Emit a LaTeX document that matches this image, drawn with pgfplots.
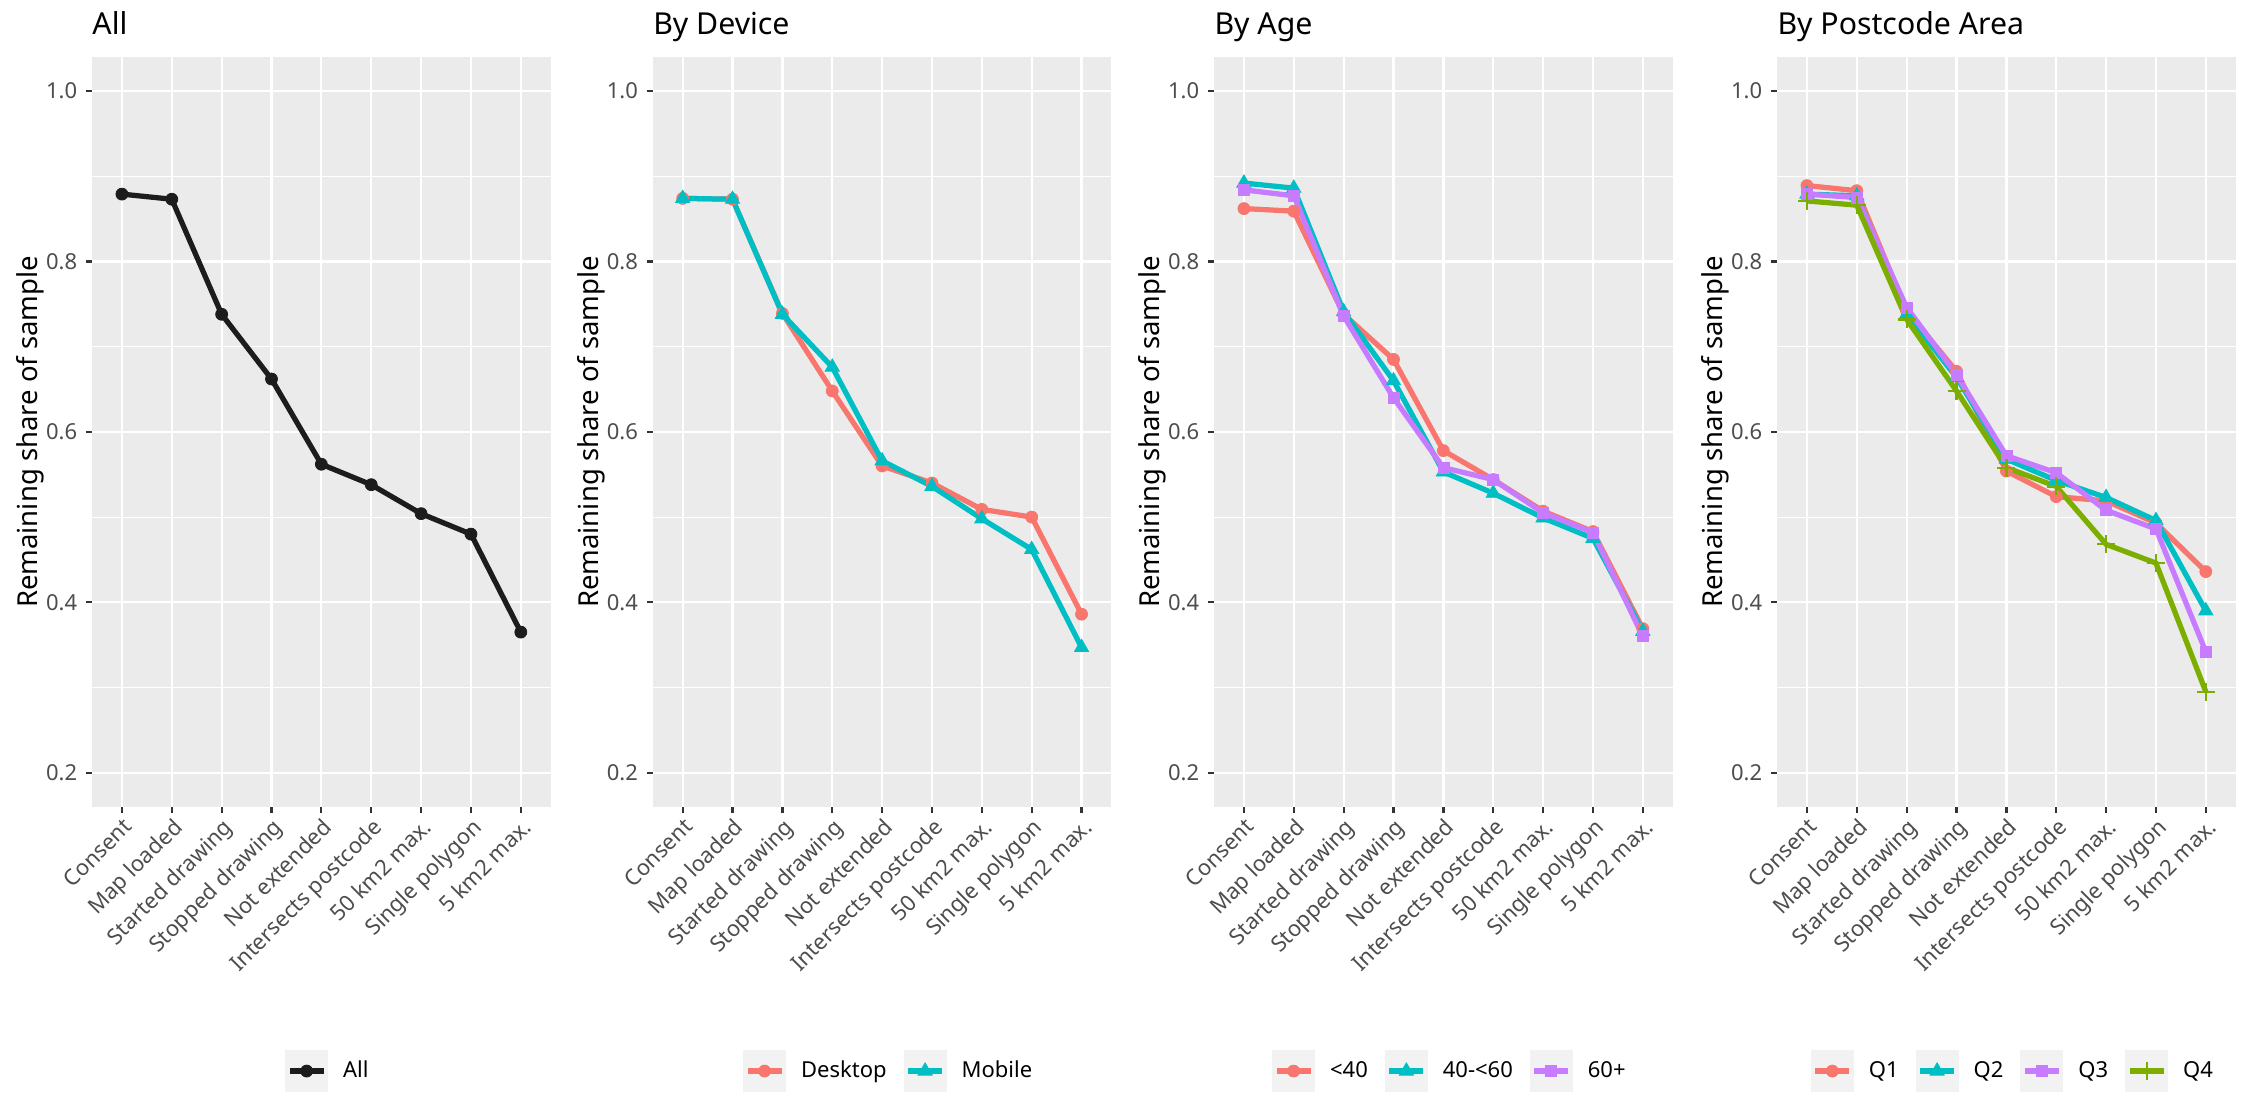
\documentclass[border=0pt]{standalone}
\usepackage{fontspec}
\setmainfont{Noto Sans}
\usepackage{pgfplots}
\pgfplotsset{compat=1.18}
\definecolor{cR}{HTML}{F8766D}
\definecolor{cC}{HTML}{00BFC4}
\definecolor{cP}{HTML}{C77CFF}
\definecolor{cG}{HTML}{7CAE00}
\definecolor{cK}{HTML}{1C1C1C}
\definecolor{panelbg}{HTML}{EBEBEB}
\definecolor{keybg}{HTML}{F2F2F2}
\definecolor{ticktext}{HTML}{4D4D4D}
\definecolor{tickcol}{HTML}{333333}
\pgfplotsset{
  funnel/.style={
    scale only axis, width=183.5pt, height=299.96pt,
    anchor=south west,
    xmin=-0.6, xmax=8.6, ymin=0.16, ymax=1.04,
    xtick={0,...,8},
    xticklabels={Consent,Map loaded,Started drawing,Stopped drawing,Not extended,Intersects postcode,50 km2 max.,Single polygon,5 km2 max.},
    ytick={0.2,0.4,0.6,0.8,1.0},
    yticklabels={0.2,0.4,0.6,0.8,1.0},
    minor ytick={0.3,0.5,0.7,0.9},
    xmajorgrids, ymajorgrids, yminorgrids,
    major grid style={white, line width=0.9pt},
    minor grid style={white, line width=0.45pt},
    axis background/.style={fill=panelbg},
    axis line style={draw=none},
    tick pos=left, tick align=outside,
    major tick length=2.4pt, minor tick length=0pt,
    tick style={tickcol, line width=0.9pt},
    ticklabel style={font=\fontsize{8.8}{10}\selectfont, text=ticktext},
    xticklabel style={rotate=45, anchor=north east, inner sep=1pt},
    ylabel={Remaining share of sample},
    ylabel style={font=\fontsize{11}{13}\selectfont, at={(axis description cs:-0.135,0.5)}, anchor=center},
    title style={font=\fontsize{12.1}{14}\selectfont, at={(axis description cs:0,1)}, anchor=base west, yshift=2.8pt, inner sep=0pt},
    legend columns=-1,
    legend style={at={(0.512,-0.3524)}, anchor=center, draw=none, fill=none, inner sep=0pt,
      font=\fontsize{8.8}{10}\selectfont,
      /tikz/every odd column/.append style={column sep=6pt},
      /tikz/every even column/.append style={column sep=6.8pt},
      nodes={inner sep=0pt}},
    legend image code/.code={
      \fill[draw=none,fill=keybg] (0pt,-8.4pt) rectangle (17.2pt,8.4pt);
      \draw[mark repeat=2,mark phase=2,##1] plot coordinates {(1.8pt,0pt) (8.6pt,0pt) (15.4pt,0pt)};
    },
  },
  sK/.style={color=cK, line width=2.1pt, mark=*, mark size=2.4pt, mark options={line width=0.3pt, fill=cK}},
  sR/.style={color=cR, line width=2.1pt, mark=*, mark size=2.4pt, mark options={line width=0.3pt, fill=cR}},
  sC/.style={color=cC, line width=2.1pt, mark=triangle*, mark size=3.3pt, mark options={line width=0.3pt, fill=cC}},
  sP/.style={color=cP, line width=2.1pt, mark=square*, mark size=2.2pt, mark options={line width=0.3pt, fill=cP}},
  sG/.style={color=cG, line width=2.1pt, mark=+, mark size=3.6pt, mark options={line width=0.9pt}},
}
\begin{document}
\begin{tikzpicture}
\useasboundingbox (0,0) rectangle (897.6pt,436.8pt);
% Panel 1
\begin{axis}[funnel, at={(36.8pt,114.08pt)}, title={All}]
\addplot[sK] coordinates {(0,0.879) (1,0.873) (2,0.738) (3,0.662) (4,0.562) (5,0.538) (6,0.504) (7,0.480) (8,0.365)};
\addlegendentry{All}
\end{axis}
% Panel 2
\begin{axis}[funnel, at={(261.1pt,114.08pt)}, title={By Device}]
\addplot[sR] coordinates {(0,0.874) (1,0.873) (2,0.739) (3,0.648) (4,0.560) (5,0.540) (6,0.509) (7,0.500) (8,0.386)};
\addlegendentry{Desktop}
\addplot[sC] coordinates {(0,0.874) (1,0.873) (2,0.738) (3,0.676) (4,0.566) (5,0.536) (6,0.498) (7,0.462) (8,0.347)};
\addlegendentry{Mobile}
\end{axis}
% Panel 3
\begin{axis}[funnel, at={(485.6pt,114.08pt)}, title={By Age}]
\addplot[sR] coordinates {(0,0.862) (1,0.859) (2,0.738) (3,0.685) (4,0.578) (5,0.544) (6,0.507) (7,0.483) (8,0.369)};
\addlegendentry{<40}
\addplot[sC] coordinates {(0,0.892) (1,0.886) (2,0.741) (3,0.660) (4,0.553) (5,0.528) (6,0.499) (7,0.475) (8,0.366)};
\addlegendentry{40-<60}
\addplot[sP] coordinates {(0,0.884) (1,0.877) (2,0.736) (3,0.640) (4,0.558) (5,0.544) (6,0.505) (7,0.482) (8,0.360)};
\addlegendentry{60+}
\end{axis}
% Panel 4
\begin{axis}[funnel, at={(710.8pt,114.08pt)}, title={By Postcode Area}]
\addplot[sR] coordinates {(0,0.889) (1,0.883) (2,0.742) (3,0.671) (4,0.554) (5,0.524) (6,0.519) (7,0.493) (8,0.436)};
\addlegendentry{Q1}
\addplot[sC] coordinates {(0,0.879) (1,0.877) (2,0.738) (3,0.664) (4,0.568) (5,0.543) (6,0.523) (7,0.496) (8,0.390)};
\addlegendentry{Q2}
\addplot[sP] coordinates {(0,0.879) (1,0.875) (2,0.746) (3,0.667) (4,0.572) (5,0.552) (6,0.508) (7,0.486) (8,0.342)};
\addlegendentry{Q3}
\addplot[sG] coordinates {(0,0.871) (1,0.866) (2,0.732) (3,0.648) (4,0.558) (5,0.536) (6,0.468) (7,0.446) (8,0.295)};
\addlegendentry{Q4}
\end{axis}
\end{tikzpicture}
\end{document}
